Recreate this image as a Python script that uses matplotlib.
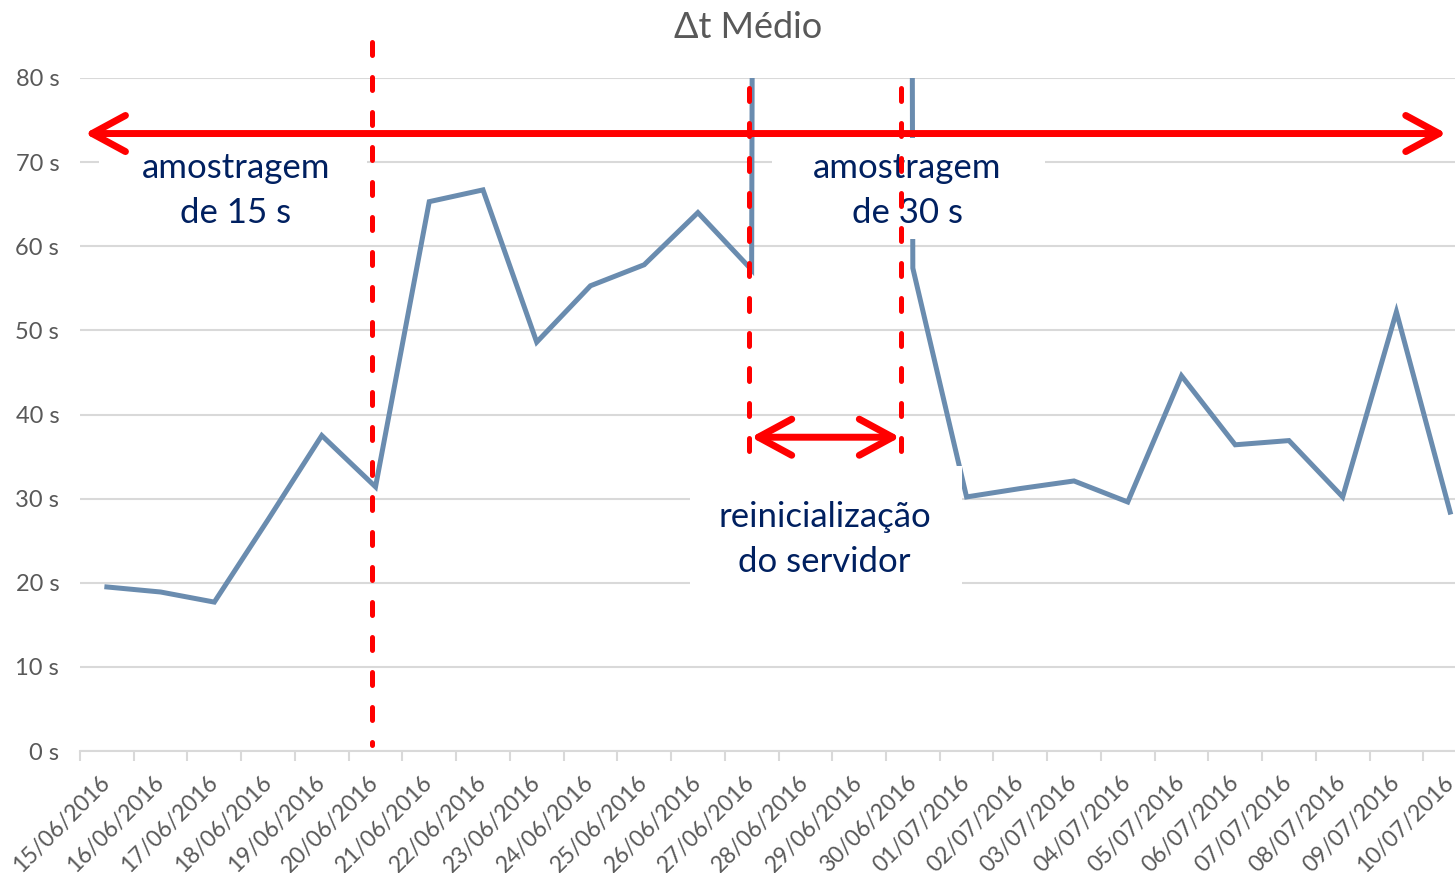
import matplotlib
matplotlib.use("Agg")
import matplotlib.pyplot as plt
from matplotlib.patches import FancyArrowPatch, Rectangle
import numpy as np

plt.rcParams["font.family"] = ["Lato", "DejaVu Sans"]

# daily mean delta-t (seconds); 28/06 and 29/06 are far off the scale
dates = ["15/06/2016", "16/06/2016", "17/06/2016", "18/06/2016", "19/06/2016",
         "20/06/2016", "21/06/2016", "22/06/2016", "23/06/2016", "24/06/2016",
         "25/06/2016", "26/06/2016", "27/06/2016", "28/06/2016", "29/06/2016",
         "30/06/2016", "01/07/2016", "02/07/2016", "03/07/2016", "04/07/2016",
         "05/07/2016", "06/07/2016", "07/07/2016", "08/07/2016", "09/07/2016",
         "10/07/2016"]
dt_mean = [19.5, 18.9, 17.7, 27.5, 37.5, 31.4, 65.3, 66.7, 48.6, 55.3,
           57.8, 64.0, 57.2, 2500.0, 2500.0, 57.4, 30.2, 31.2, 32.1, 29.6,
           44.6, 36.4, 36.9, 30.2, 52.2, 28.4]
y_ticks = [0, 10, 20, 30, 40, 50, 60, 70, 80]
y_labels = ["0 s", "10 s", "20 s", "30 s", "40 s", "50 s", "60 s", "70 s", "80 s"]

title = "\u0394t M\u00e9dio"
label_15 = "amostragem\nde 15 s"
label_30 = "amostragem\nde 30 s"
label_restart = "reinicializa\u00e7\u00e3o\ndo servidor"

W, H = 1455, 873
fig = plt.figure(figsize=(W / 100, H / 100), dpi=100)
# plot area runs past the right edge of the picture, like the original
left, right = 80, 1477
top, bottom = 78, 751
ax = fig.add_axes([left / W, 1 - bottom / H, (right - left) / W, (bottom - top) / H])

x = np.arange(len(dates))
ax.plot(x, dt_mean, color="#6A8CAF", lw=3.6, zorder=3, solid_joinstyle="miter")

ax.set_xlim(-0.5, len(dates) - 0.5)
ax.set_ylim(0, 80)

grid_c = "#D9D9D9"
for s in ["top", "right", "left"]:
    ax.spines[s].set_visible(False)
ax.spines["bottom"].set_color(grid_c)
ax.spines["bottom"].set_linewidth(1.5)

ax.set_yticks(y_ticks)
ax.set_yticklabels(y_labels, fontsize=17, color="#595959")
ax.tick_params(axis="y", length=0, pad=15)
ax.yaxis.grid(True, color=grid_c, lw=1.5, zorder=0)
ax.set_axisbelow(True)

ax.set_xticks(np.arange(len(dates) + 1) - 0.5)
ax.set_xticklabels([])
ax.tick_params(axis="x", which="major", length=7, width=1.5, color=grid_c)
ax.set_xticks(x, minor=True)
ax.set_xticklabels(dates, minor=True, rotation=45, ha="right", va="center",
                   rotation_mode="anchor", fontsize=16.5, color="#595959")
ax.tick_params(axis="x", which="minor", length=0, pad=20)

fig.text(748 / W, 1 - 27 / H, title, ha="center", va="center",
         fontsize=26, color="#595959")

# white text boxes hiding the grid behind the notes
box_kw = dict(facecolor="white", edgecolor="none", zorder=4, clip_on=False)
ax.add_patch(Rectangle((-0.15, 60.9), 5.0, 12.0, **box_kw))
ax.add_patch(Rectangle((12.38, 60.9), 5.08, 12.0, **box_kw))
ax.add_patch(Rectangle((10.85, 17.4), 5.07, 16.5, **box_kw))

note_kw = dict(ha="center", va="center", fontsize=25, color="#002060",
               linespacing=1.5, zorder=5)
ax.text(2.4, 66.6, label_15, **note_kw)
ax.text(14.9, 66.6, label_30, **note_kw)
ax.text(13.36, 25.2, label_restart, **note_kw)

# red dashed separators
dash_kw = dict(color="#FF0000", lw=3.6, dashes=(2.6, 4.4), dash_capstyle="round",
               zorder=6, clip_on=False)
ax.plot([4.93, 4.93], [84.3, 0.7], **dash_kw)
ax.plot([11.95, 11.95], [78.8, 34.0], **dash_kw)
ax.plot([14.78, 14.78], [78.8, 34.0], **dash_kw)

# red double arrows
arr_style = "<->,head_length=24,head_width=13"
for (x0, x1, yy) in [(-0.41, 24.93, 73.4), (11.99, 14.76, 37.3)]:
    a = FancyArrowPatch((x0, yy), (x1, yy), arrowstyle=arr_style, mutation_scale=1,
                        color="#FF0000", lw=5, capstyle="round", joinstyle="round",
                        shrinkA=0, shrinkB=0, zorder=7, clip_on=False)
    ax.add_patch(a)

fig.savefig("out.png", dpi=100)
